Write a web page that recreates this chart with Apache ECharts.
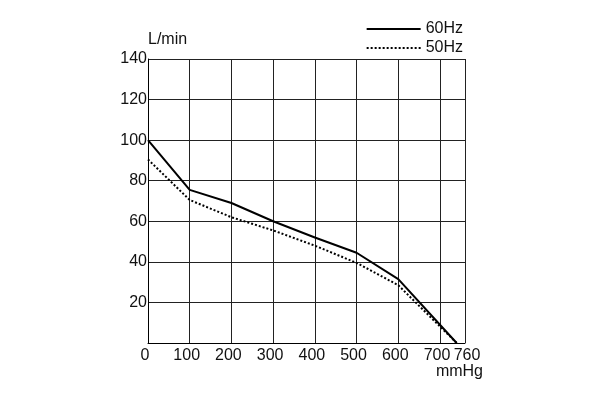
<!DOCTYPE html>
<html>
<head>
<meta charset="utf-8">
<script src="https://cdn.jsdelivr.net/npm/echarts@6/dist/echarts.min.js"></script>
<style>html,body{margin:0;padding:0;background:#fff}#c{width:604px;height:398px}</style>
</head>
<body>
<div id="c"></div>
<script>
var seriesNames = ['60Hz', '50Hz'];
var hz60 = [[0,100],[100,75.5],[200,69],[300,60],[400,52],[500,44.5],[600,31.5],[740,0]];
var hz50 = [[0,90.5],[100,70.5],[200,62],[300,55.5],[400,48],[500,39.5],[600,28.5],[740,0]];
var xMax = 760, xStep = 100;
var yMax = 140, yStep = 20;
var xName = 'mmHg', yName = 'L/min';

var font = 'Liberation Sans, Arial, sans-serif';
var chart = echarts.init(document.getElementById('c'), null, {renderer: 'canvas'});
chart.setOption({
  animation: false,
  backgroundColor: '#fff',
  grid: {left: 148, right: 139, top: 59, bottom: 55, containLabel: false},
  legend: {
    orient: 'vertical', right: 136, top: 16,
    itemWidth: 54, itemHeight: 14, itemGap: 3,
    itemStyle: {color: 'rgba(0,0,0,0)', borderColor: 'rgba(0,0,0,0)', borderWidth: 0},
    textStyle: {fontFamily: font, fontSize: 16, color: '#111'},
    data: seriesNames
  },
  xAxis: [{
    type: 'value', min: 0, max: xMax, interval: xStep, position: 'bottom',
    name: xName, nameLocation: 'end', nameGap: 18,
    nameTextStyle: {fontFamily: font, fontSize: 16, color: '#111', align: 'right', verticalAlign: 'top', padding: [21, 0, 0, 0]},
    axisLine: {show: true, lineStyle: {color: '#000', width: 1}},
    axisTick: {show: false},
    axisLabel: {fontFamily: font, fontSize: 16, color: '#111', margin: 5, padding: [0, 6, 0, 0],
      showMaxLabel: false, showMinLabel: true},
    splitLine: {show: true, lineStyle: {color: '#222', width: 1}}
  }, {
    type: 'value', min: 0, max: xMax, interval: xStep, position: 'bottom', offset: 0,
    axisLine: {show: false}, axisTick: {show: false}, splitLine: {show: false},
    axisLabel: {fontFamily: font, fontSize: 16, color: '#111', margin: 5, padding: [0, 0, 0, 4],
      showMaxLabel: true, showMinLabel: false,
      formatter: function (v) { return v === xMax ? String(v) : ''; }}
  }],
  yAxis: {
    type: 'value', min: 0, max: yMax, interval: yStep,
    name: yName, nameLocation: 'end', nameGap: 19,
    nameTextStyle: {fontFamily: font, fontSize: 16, color: '#111', align: 'left', verticalAlign: 'middle'},
    axisLine: {show: true, lineStyle: {color: '#000', width: 1}},
    axisTick: {show: false},
    axisLabel: {fontFamily: font, fontSize: 16, color: '#111', margin: 1,
      formatter: function (v) { return v === 0 ? '' : String(v); }},
    splitLine: {show: true, lineStyle: {color: '#222', width: 1}}
  },
  series: [
    {name: seriesNames[0], type: 'line', xAxisIndex: 0, data: hz60, symbol: 'none', smooth: false,
     lineStyle: {color: '#000', width: 2, type: 'solid'}, itemStyle: {color: '#000'}},
    {name: seriesNames[1], type: 'line', xAxisIndex: 0, data: hz50, symbol: 'none', smooth: false,
     lineStyle: {color: '#000', width: 2, type: [2, 2]}, itemStyle: {color: '#000'}}
  ]
});
</script>
</body>
</html>
